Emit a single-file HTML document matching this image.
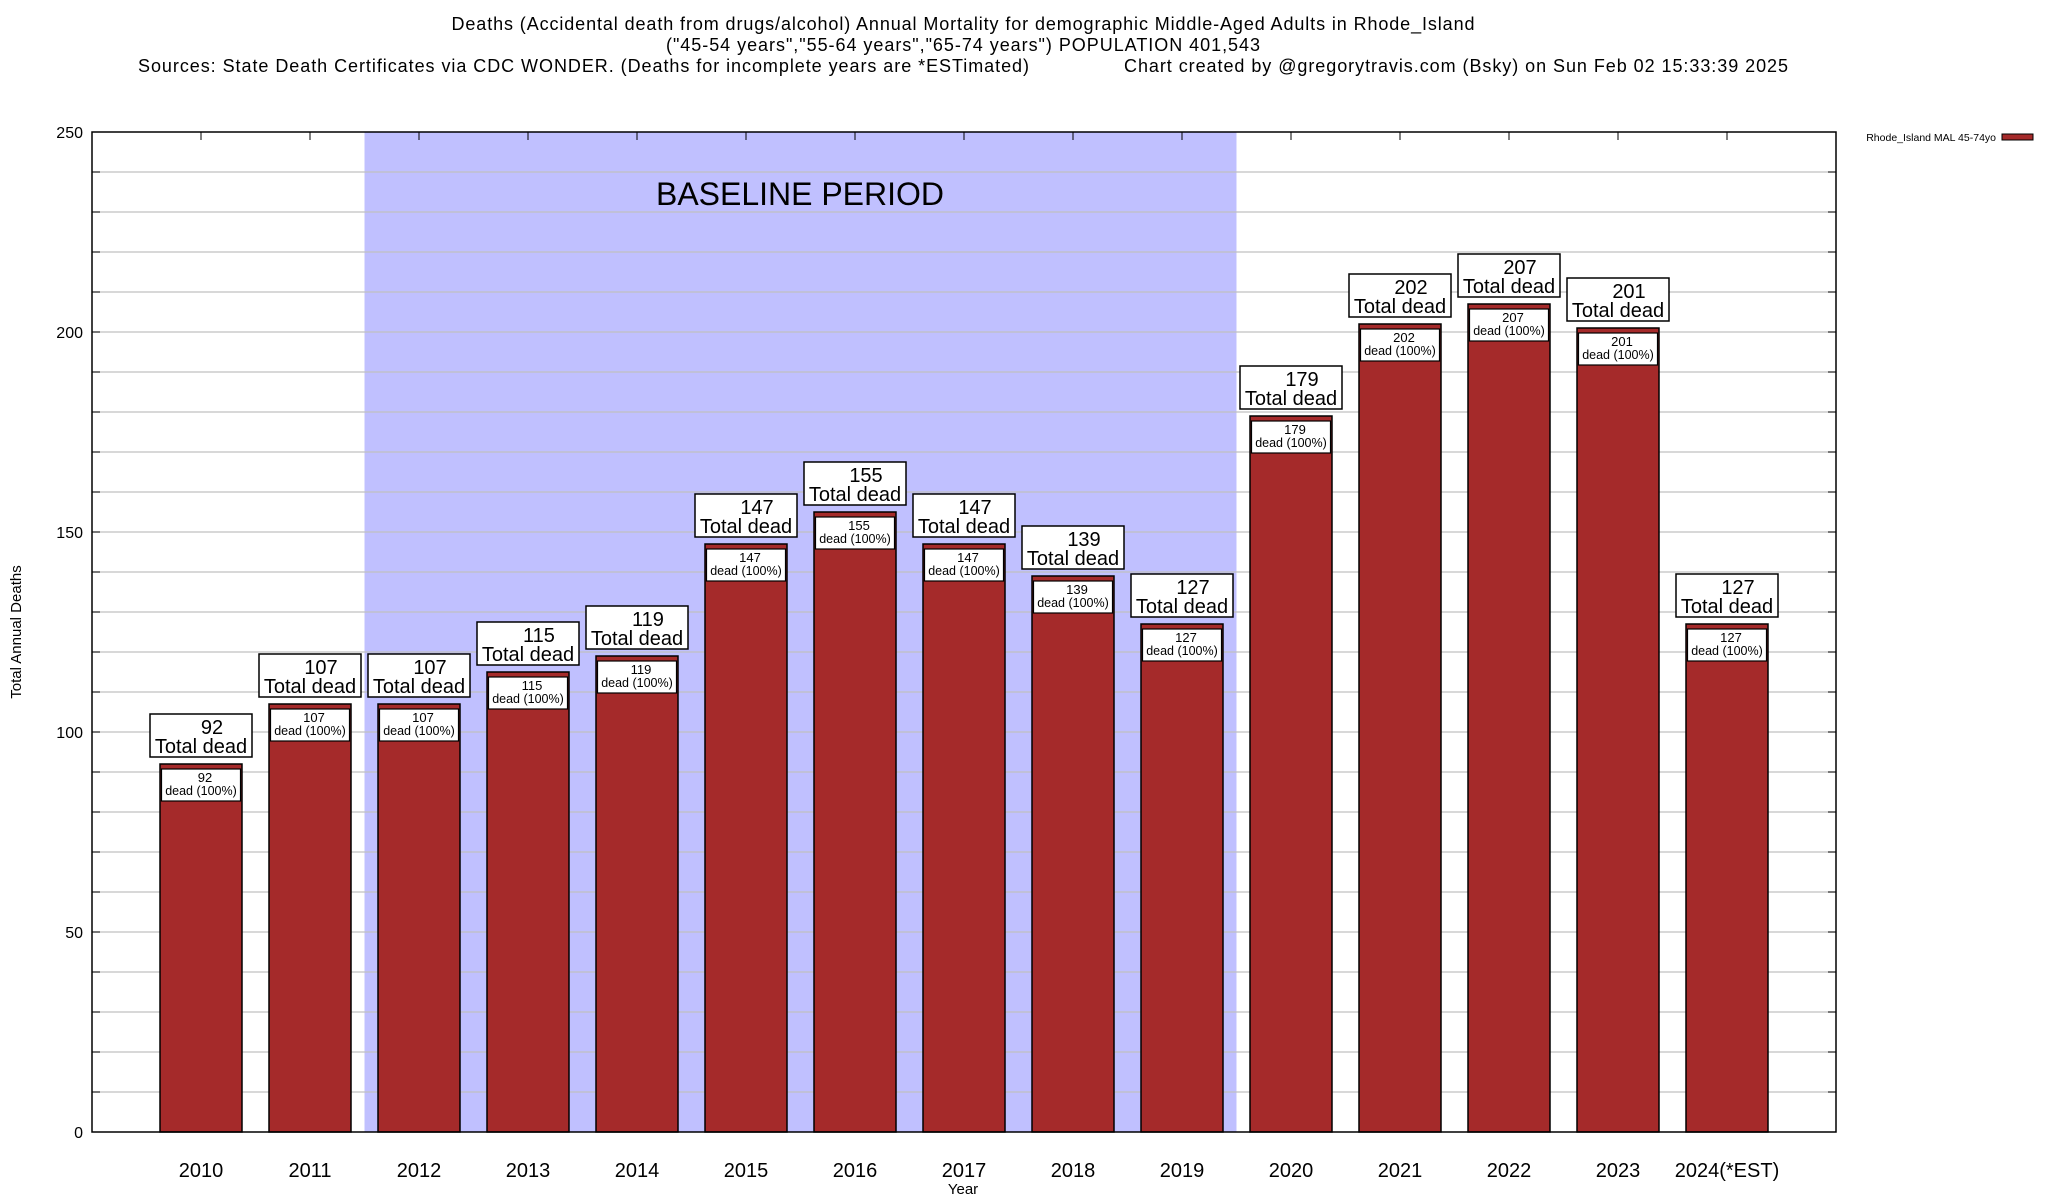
<!DOCTYPE html>
<html><head><meta charset="utf-8"><style>
html,body{margin:0;padding:0;background:#fff;}
svg{display:block;font-family:"Liberation Sans",Arial,sans-serif;}
</style></head><body>
<svg id="chart" width="2048" height="1200" viewBox="0 0 2048 1200" xmlns="http://www.w3.org/2000/svg">
<g font-size="18" fill="#000">
<text x="963" y="30" text-anchor="middle" textLength="1023">Deaths (Accidental death from drugs/alcohol) Annual Mortality for demographic Middle-Aged Adults in Rhode_Island</text>
<text x="963" y="51" text-anchor="middle" textLength="594">("45-54 years","55-64 years","65-74 years") POPULATION 401,543</text>
<text x="138" y="72" textLength="891">Sources: State Death Certificates via CDC WONDER. (Deaths for incomplete years are *ESTimated)</text>
<text x="1124" y="72" textLength="664">Chart created by @gregorytravis.com (Bsky) on Sun Feb 02 15:33:39 2025</text>
</g>
<g id="plot"></g>
</svg>
<script>
const years = ["2010","2011","2012","2013","2014","2015","2016","2017","2018","2019","2020","2021","2022","2023","2024(*EST)"];
const deaths = [92,107,107,115,119,147,155,147,139,127,179,202,207,201,127];
const yTicks = [0,50,100,150,200,250];
const baselineRange = [1.5, 9.5];

const NS = "http://www.w3.org/2000/svg";
const L = 92, R = 1836, T = 132, B = 1132;
const yMax = 250;
function yPos(v){ return B - (v / yMax) * (B - T); }
function xPos(i){ return L + (i + 1) * ((R - L) / 16); }
const bw = 82;
const g = document.getElementById('plot');
function mk(tag, attrs, parent){
  const e = document.createElementNS(NS, tag);
  for (const k in attrs) e.setAttribute(k, attrs[k]);
  (parent || g).appendChild(e);
  return e;
}
function txt(x, y, s, size, anchor, parent){
  const t = mk('text', {x:x, y:y, 'font-size':size, 'text-anchor':anchor||'middle', fill:'#000'}, parent);
  t.textContent = s;
  return t;
}

const bx0 = xPos(baselineRange[0]), bx1 = xPos(baselineRange[1]);
const shade = mk('rect', {x:bx0, y:T, width:bx1-bx0, height:B-T, fill:'#c0c0ff'});



for (let v = 10; v < yMax; v += 10) {
  const gl = mk('line', {x1:L, x2:R, y1:yPos(v), y2:yPos(v), stroke:'#c0c0c0', 'stroke-width':1.2});
  
  
  mk('line', {x1:L, x2:L+8, y1:yPos(v), y2:yPos(v), stroke:'#000', 'stroke-width':1});
  mk('line', {x1:R-8, x2:R, y1:yPos(v), y2:yPos(v), stroke:'#000', 'stroke-width':1});
}

const bl = txt(800, 205, 'BASELINE PERIOD', 32);
bl.setAttribute('textLength', '288');



yTicks.forEach(v => {
  const t = txt(83, yPos(v) + 6, String(v), 16, 'end');
  
  
});

deaths.forEach((d, i) => {
  const cx = xPos(i);
  const top = yPos(d);
  const bar = mk('rect', {x:cx-bw/2, y:top, width:bw, height:B-top, fill:'#a52a2a', stroke:'#000', 'stroke-width':1.5});
  
  
  const inner = mk('rect', {x:cx-bw/2+1.5, y:top+5, width:bw-3, height:32, fill:'#fff', stroke:'#000', 'stroke-width':1.2});
  
  
  const t1 = txt(cx+4, top+18, String(d), 13);
  
  
  const t2 = txt(cx, top+31, 'dead (100%)', 12.5);
  
  
  const ob = mk('rect', {x:cx-51, y:top-50, width:102, height:43, fill:'#fff', stroke:'#000', 'stroke-width':1.5});
  
  
  const o1 = txt(cx+11, top-30, String(d), 20);
  
  
  const o2 = txt(cx, top-11, 'Total dead', 20);
  
  
  const xl = txt(cx, 1177, years[i], 20);
  
  
  mk('line', {x1:cx, x2:cx, y1:T, y2:T+8, stroke:'#000', 'stroke-width':1});
});

const fr = mk('rect', {x:L, y:T, width:R-L, height:B-T, fill:'none', stroke:'#000', 'stroke-width':1.5});



const yt = txt(0, 0, 'Total Annual Deaths', 15);
yt.setAttribute('transform', 'translate(21,632) rotate(-90)');


const xt = txt(963, 1194, 'Year', 15);



const lt = txt(1996, 141, 'Rhode_Island MAL 45-74yo', 10.5, 'end');


const ls = mk('rect', {x:2002, y:134, width:31, height:6, fill:'#a52a2a', stroke:'#000', 'stroke-width':1});


</script>
</body></html>
